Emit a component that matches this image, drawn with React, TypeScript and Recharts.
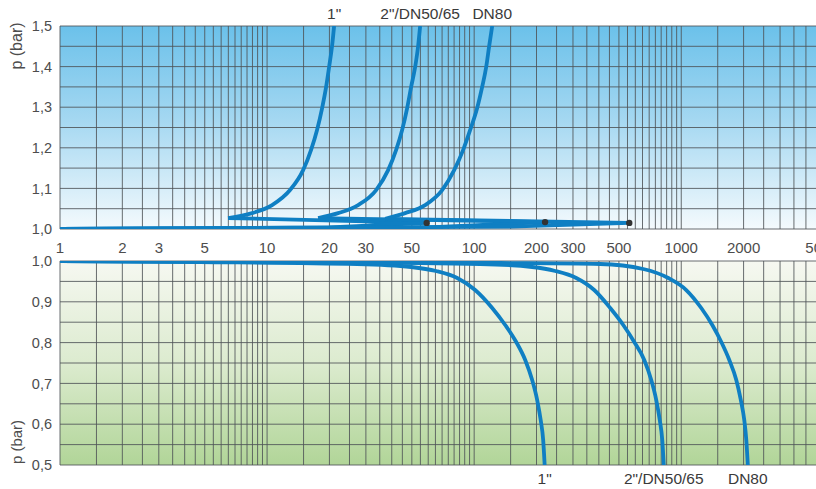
import { ComposedChart, Line, Scatter, XAxis, YAxis, CartesianGrid } from 'recharts';

const FONT = '"Liberation Sans", Arial, Helvetica, sans-serif';
const BLUE = '#0f7fc3';

// x grid (flow, log scale) and the labelled subset
const xGridTicks = [
  1, 1.5, 2, 2.5, 3, 3.5, 4, 4.5, 5, 5.5, 6, 6.5, 7, 7.5, 8, 8.5, 9, 9.5,
  10, 15, 20, 25, 30, 35, 40, 45, 50, 55, 60, 65, 70, 75, 80, 85, 90, 95,
  100, 150, 200, 250, 300, 350, 400, 450, 500, 550, 600, 650, 700, 750, 800, 850, 900, 950,
  1000, 1500, 2000, 2500, 3000, 3500, 4000, 4500, 5000,
];
const xLabelTicks = [1, 2, 3, 5, 10, 20, 30, 50, 100, 200, 300, 500, 1000, 2000, 5000];

const topPTicks = [1.0, 1.05, 1.1, 1.15, 1.2, 1.25, 1.3, 1.35, 1.4, 1.45, 1.5];
const bottomPTicks = [0.5, 0.55, 0.6, 0.65, 0.7, 0.75, 0.8, 0.85, 0.9, 0.95, 1.0];

const seriesNames = ['1"', '2"/DN50/65', 'DN80'];

// top panel (overpressure): wedge part and rising curve part
const wedge1Flow = [1, 20, 59, 6.48];
const wedge1P = [1.0, 1.004, 1.015, 1.027];
const rise1Flow = [6.48, 8.46, 10.57, 12.91, 14.93, 16.31, 17.43, 18.44, 19.28, 19.93, 20.6, 21.07];
const rise1P = [1.027, 1.039, 1.059, 1.096, 1.145, 1.195, 1.244, 1.298, 1.35, 1.399, 1.451, 1.5];

const wedge2Flow = [1, 60, 220, 17.63];
const wedge2P = [1.0, 1.004, 1.017, 1.027];
const rise2Flow = [17.63, 22.03, 27.52, 33.62, 38.42, 42.0, 44.89, 47.47, 49.62, 51.88, 53.64, 54.84];
const rise2P = [1.027, 1.039, 1.059, 1.096, 1.145, 1.195, 1.244, 1.298, 1.35, 1.399, 1.451, 1.5];

const wedge3Flow = [1, 150, 561, 37.15];
const wedge3P = [1.0, 1.006, 1.015, 1.025];
const rise3Flow = [37.15, 46.42, 57.97, 70.05, 80.06, 88.5, 95.65, 103.4, 109.3, 114.3, 118.2, 122.2];
const rise3P = [1.025, 1.039, 1.059, 1.096, 1.145, 1.195, 1.244, 1.298, 1.35, 1.399, 1.451, 1.5];

const markFlow = [59, 220, 561];
const markP = [1.015, 1.017, 1.015];

// bottom panel (underpressure)
const drop1Flow = [1, 4.75, 27.2, 49.6, 65.5, 82.8, 101.1, 122.2, 141.2, 159.6, 176.4, 190.6, 201.5, 209.5, 215.4, 219];
const drop1P = [1.0, 0.9975, 0.9926, 0.9853, 0.9755, 0.9583, 0.9289, 0.8848, 0.8431, 0.8015, 0.7574, 0.7083, 0.6593, 0.6103, 0.5613, 0.5];

const drop2Flow = [1, 14.43, 106.9, 190.6, 246.3, 311.1, 379.9, 453.9, 524.7, 592.9, 662.7, 716.4, 757.3, 787.4, 809.5, 823.3];
const drop2P = [1.0, 0.9975, 0.9926, 0.9853, 0.9755, 0.9583, 0.9289, 0.8848, 0.8431, 0.8015, 0.7574, 0.7083, 0.6593, 0.6103, 0.5613, 0.5];

const drop3Flow = [1, 14.43, 133.6, 406.2, 655, 865.5, 1057, 1249, 1412, 1561, 1706, 1844, 1939, 2015, 2061, 2096];
const drop3P = [1.0, 0.9975, 0.9951, 0.9926, 0.9804, 0.9583, 0.9289, 0.8848, 0.8431, 0.8015, 0.7574, 0.7083, 0.6593, 0.6103, 0.5613, 0.5];

const pts = (xs: number[], ys: number[]) => xs.map((x, i) => ({ x, y: ys[i] }));

const fmtP = (v: number) =>
  Math.abs(v * 10 - Math.round(v * 10)) < 1e-6 ? v.toFixed(1).replace('.', ',') : '';

// flow tick: only the labelled values get text; the last one sits at the cut edge
function FlowTick(props: any) {
  const { x, y, payload } = props;
  const v = payload.value;
  if (!xLabelTicks.includes(v)) return <g />;
  return (
    <text x={v === 5000 ? x - 4 : x} y={y + 16} textAnchor="middle" fill="#4d4d4d" fontSize={15} fontFamily={FONT}>
      {v}
    </text>
  );
}

function PLabel(props: any) {
  const vb = props.viewBox || { x: 0, y: 0, width: 0, height: 0 };
  const cx = vb.x + 16;
  const cy = props.fromBottom ? vb.y + vb.height - props.fromBottom : vb.y + props.fromTop;
  return (
    <text
      x={cx}
      y={cy}
      transform={`rotate(-90 ${cx} ${cy})`}
      textAnchor="middle"
      dominantBaseline="central"
      fontSize={props.size || 15}
      fill="#4d4d4d"
      fontFamily={FONT}
    >
      p (bar)
    </text>
  );
}

// series name written at the end of its curve
const nameLabel = (name: string, lastIndex: number, dy: number) => (p: any) =>
  p.index === lastIndex ? (
    <text
      key={name}
      x={p.x}
      y={p.y + dy}
      textAnchor="middle"
      dominantBaseline="central"
      fontSize={15.5}
      fill="#3a3a3a"
      fontFamily={FONT}
    >
      {name}
    </text>
  ) : null;

const MarkDot = (props: any) => <circle cx={props.cx} cy={props.cy} r={3.2} fill="#333" />;

const yTickStyle = { fill: '#4d4d4d', fontSize: 14.5, fontFamily: FONT };

const lineProps = {
  dataKey: 'y',
  stroke: BLUE,
  strokeWidth: 3.8,
  dot: false,
  isAnimationActive: false,
};

export default function App() {
  return (
    <div style={{ position: 'absolute', left: 0, top: 0, width: 816, height: 489, overflow: 'hidden', background: '#fff' }}>
      <div style={{ position: 'absolute', left: 0, top: 0 }}>
        <ComposedChart width={840} height={262} margin={{ top: 26, right: 14, bottom: 0, left: 0 }}>
          <defs>
            <linearGradient id="topBg" x1="0" y1="0" x2="0" y2="1">
              <stop offset="0%" stopColor="#6bc1ea" />
              <stop offset="45%" stopColor="#a3d7f1" />
              <stop offset="100%" stopColor="#f4fafd" />
            </linearGradient>
          </defs>
          <CartesianGrid fill="url(#topBg)" stroke="#4f5357" strokeOpacity={0.85} />
          <XAxis
            dataKey="x"
            type="number"
            scale="log"
            domain={[1, 5000]}
            ticks={xGridTicks}
            interval={0}
            tickLine={false}
            axisLine={false}
            tick={<FlowTick />}
            height={33}
            allowDataOverflow
          />
          <YAxis
            dataKey="y"
            type="number"
            domain={[1, 1.5]}
            ticks={topPTicks}
            interval={0}
            tickFormatter={fmtP}
            tickLine={false}
            axisLine={false}
            tick={yTickStyle}
            width={60}
            allowDataOverflow
            label={<PLabel fromTop={20} size={16} />}
          />
          <Line {...lineProps} type="linear" data={pts(wedge1Flow, wedge1P)} />
          <Line {...lineProps} type="monotone" data={pts(rise1Flow, rise1P)} label={nameLabel(seriesNames[0], rise1Flow.length - 1, -13)} />
          <Line {...lineProps} type="linear" data={pts(wedge2Flow, wedge2P)} />
          <Line {...lineProps} type="monotone" data={pts(rise2Flow, rise2P)} label={nameLabel(seriesNames[1], rise2Flow.length - 1, -13)} />
          <Line {...lineProps} type="linear" data={pts(wedge3Flow, wedge3P)} />
          <Line {...lineProps} type="monotone" data={pts(rise3Flow, rise3P)} label={nameLabel(seriesNames[2], rise3Flow.length - 1, -13)} />
          <Scatter data={pts(markFlow, markP)} dataKey="y" shape={MarkDot} isAnimationActive={false} />
        </ComposedChart>
      </div>
      <div style={{ position: 'absolute', left: 0, top: 245 }}>
        <ComposedChart width={840} height={244} margin={{ top: 16, right: 14, bottom: 0, left: 0 }}>
          <defs>
            <linearGradient id="botBg" x1="0" y1="0" x2="0" y2="1">
              <stop offset="0%" stopColor="#f6f8f1" />
              <stop offset="50%" stopColor="#dcebcf" />
              <stop offset="100%" stopColor="#b1d598" />
            </linearGradient>
          </defs>
          <CartesianGrid fill="url(#botBg)" stroke="#4f5357" strokeOpacity={0.85} />
          <XAxis
            dataKey="x"
            type="number"
            scale="log"
            domain={[1, 5000]}
            ticks={xGridTicks}
            interval={0}
            tickFormatter={() => ''}
            tickLine={false}
            axisLine={false}
            height={24}
            allowDataOverflow
          />
          <YAxis
            dataKey="y"
            type="number"
            domain={[0.5, 1]}
            ticks={bottomPTicks}
            interval={0}
            tickFormatter={fmtP}
            tickLine={false}
            axisLine={false}
            tick={yTickStyle}
            width={60}
            allowDataOverflow
            label={<PLabel fromBottom={23} />}
          />
          <Line {...lineProps} type="monotone" data={pts(drop1Flow, drop1P)} label={nameLabel(seriesNames[0], drop1Flow.length - 1, 13)} />
          <Line {...lineProps} type="monotone" data={pts(drop2Flow, drop2P)} label={nameLabel(seriesNames[1], drop2Flow.length - 1, 13)} />
          <Line {...lineProps} type="monotone" data={pts(drop3Flow, drop3P)} label={nameLabel(seriesNames[2], drop3Flow.length - 1, 13)} />
        </ComposedChart>
      </div>
    </div>
  );
}
